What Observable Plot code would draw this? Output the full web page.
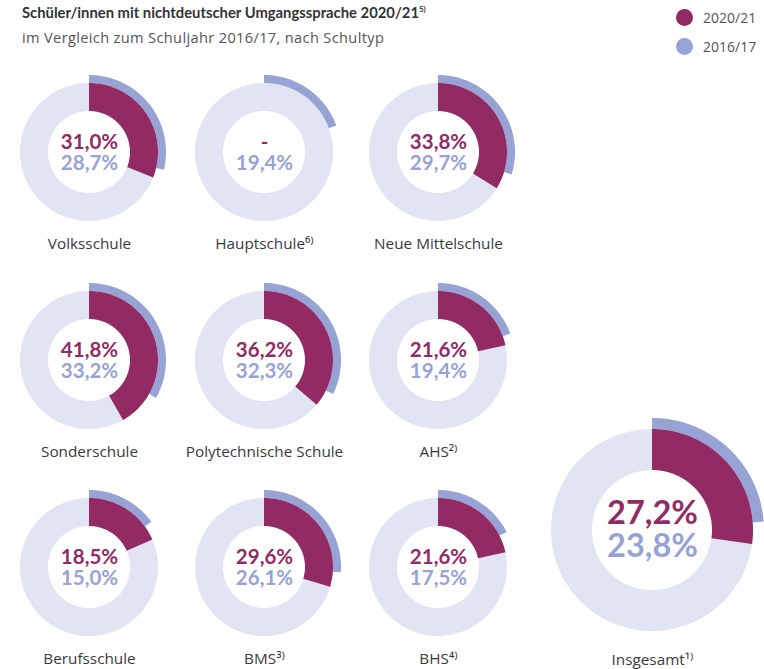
<!DOCTYPE html>
<html><head><meta charset="utf-8">
<script src="https://cdn.jsdelivr.net/npm/d3@7"></script>
<script src="https://cdn.jsdelivr.net/npm/@observablehq/plot@0.6"></script>
<style>
body{margin:0;background:#fff;}
#wrap{width:764px;height:669px;position:relative;overflow:hidden;font-family:"Open Sans",Lato,sans-serif;}
#head{height:56px;position:relative;}
#title{position:absolute;left:22px;top:3px;font-family:Lato,sans-serif;font-size:14.8px;font-weight:bold;color:#333;white-space:nowrap;}
#title sup{font-size:8px;vertical-align:6px;}
#sub{position:absolute;left:22px;top:27px;font-size:14.6px;letter-spacing:0.35px;color:#555;white-space:nowrap;}
#legend{position:absolute;left:676px;top:3px;font-size:14px;color:#555;}
.li{display:flex;align-items:center;height:29px;}
.sw{width:17px;height:17px;border-radius:50%;margin-right:10px;}
</style></head>
<body><div id="wrap">
<div id="head">
<div id="title">Schüler/innen mit nichtdeutscher Umgangssprache 2020/21<sup>5)</sup></div>
<div id="sub">im Vergleich zum Schuljahr 2016/17, nach Schultyp</div>
<div id="legend"></div>
</div>
<div id="chart"></div>
</div>
<script>
// ---- data ----
const schools = ["Volksschule","Hauptschule","Neue Mittelschule","Sonderschule","Polytechnische Schule","AHS","Berufsschule","BMS","BHS","Insgesamt"];
const footnotes = ["","6)","","","","2)","","3)","4)","1)"];
const share2021 = [31.0, null, 33.8, 41.8, 36.2, 21.6, 18.5, 29.6, 21.6, 27.2];
const share2017 = [28.7, 19.4, 29.7, 33.2, 32.3, 19.4, 15.0, 26.1, 17.5, 23.8];
const seriesNames = ["2020/21", "2016/17"];
const seriesColors = ["#922a63", "#97a3d5"];
const ringColor = "#e1e4f2";

// ---- legend ----
const leg = document.getElementById("legend");
seriesNames.forEach((s,i)=>{
  const d=document.createElement("div");d.className="li";
  d.innerHTML=`<span class="sw" style="background:${seriesColors[i]}"></span><span>${s}</span>`;
  leg.appendChild(d);
});

// ---- layout (page coordinates) ----
const W = 764, H = 669, HEAD = 56;
const colX = [89, 264, 438], rowY = [152, 360, 567];
const layout = schools.map((s,i)=> i<9
  ? {cx: colX[i%3], cy: rowY[Math.floor(i/3)], R: 69, r: 41, Rb: 77, fs: 20.5, off: 10.5, lab: 92}
  : {cx: 652, cy: 530, R: 101, r: 60, Rb: 112, fs: 32.5, off: 16.5, lab: 130});

function arc(key, cx, cy, r0, r1, pct){
  const n = Math.max(2, Math.ceil(pct*3.6));
  const pts=[];
  for(let k=0;k<=n;k++){
    const a = 2*Math.PI*(pct/100)*k/n;
    pts.push({key, xo: cx+r1*Math.sin(a), yo: cy-r1*Math.cos(a), xi: cx+r0*Math.sin(a), yi: cy-r0*Math.cos(a)});
  }
  return pts;
}
const bg=[], ring17=[], ring21=[], texts=[], labels=[];
const sup = {"1":"¹","2":"²","3":"³","4":"⁴","5":"⁵","6":"⁶",")":"⁾"};
const fmt = v => v==null ? "-" : d3.format(".1f")(v).replace(".", ",") + "%";
schools.forEach((s,i)=>{
  const L = layout[i];
  bg.push(...arc("b"+i, L.cx, L.cy, L.r, L.R, 100));
  ring17.push(...arc("o"+i, L.cx, L.cy, L.R, L.Rb, share2017[i]));
  if(share2021[i]!=null) ring21.push(...arc("m"+i, L.cx, L.cy, L.r, L.R, share2021[i]));
  texts.push({x:L.cx, y:L.cy-L.off, t:fmt(share2021[i]), c:seriesColors[0], fs:L.fs});
  texts.push({x:L.cx, y:L.cy+L.off, t:fmt(share2017[i]), c:seriesColors[1], fs:L.fs});
  labels.push({x:L.cx, y:L.cy+L.lab, t: s + [...footnotes[i]].map(ch=>sup[ch]||ch).join("")});
});

const areaOpts = {x1:"xo", y1:"yo", x2:"xi", y2:"yi", z:"key", curve:"linear"};
const chart = Plot.plot({
  width: W, height: H-HEAD,
  margin: 0,
  style: {fontFamily: "Lato, 'Open Sans', sans-serif", background: "transparent"},
  x: {domain:[0,W], range:[0,W], axis:null},
  y: {domain:[HEAD,H], range:[0,H-HEAD], axis:null},
  marks: [
    Plot.area(bg, {...areaOpts, fill: ringColor}),
    Plot.area(ring17, {...areaOpts, fill: seriesColors[1]}),
    Plot.area(ring21, {...areaOpts, fill: seriesColors[0]}),
    Plot.text(texts.filter((d,i)=>i%2==0), {x:"x", y:"y", text:"t", fill:seriesColors[0], fontSize: d=>d.fs, fontWeight:"bold"}),
    Plot.text(texts.filter((d,i)=>i%2==1), {x:"x", y:"y", text:"t", fill:seriesColors[1], fontSize: d=>d.fs, fontWeight:"bold"}),
    Plot.text(labels, {x:"x", y:"y", text:"t", fill:"#3a3a3a", fontSize:15.3, fontFamily:"Open Sans"})
  ]
});
document.getElementById("chart").appendChild(chart);
</script>
</body></html>
